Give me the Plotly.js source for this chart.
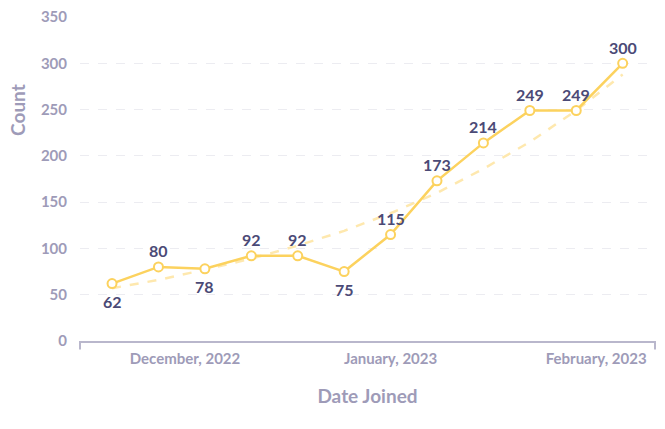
<!DOCTYPE html>
<html>
<head>
<meta charset="utf-8">
<script src="https://cdn.plot.ly/plotly-3.0.1.min.js"></script>
<style>html,body{margin:0;padding:0;background:#fff;}#chart{width:665px;height:429px;}</style>
</head>
<body>
<div id="chart"></div>
<script>
const dates = ["2022-11-20","2022-11-27","2022-12-04","2022-12-11","2022-12-18","2022-12-25","2023-01-01","2023-01-08","2023-01-15","2023-01-22","2023-01-29","2023-02-05"];
const counts = [62, 80, 78, 92, 92, 75, 115, 173, 214, 249, 249, 300];
const trend = [57, 66, 77, 89, 103, 119, 138, 160, 186, 215, 249, 288];
const labelSide = ["below","above","below","above","above","below","above","above","above","above","above","above"];
const tickDates = ["2022-12-01","2023-01-01","2023-02-01"];
const tickText = ["December, 2022","January, 2023","February, 2023"];

const yellow = "#fcd25e";
const axisGray = "#9e9bb8";
const traces = [
  {x: dates, y: trend, mode: "lines", line: {color: "rgba(253,222,140,0.7)", width: 2.5, dash: "dash"}, hoverinfo: "skip", showlegend: false},
  {x: dates, y: counts, mode: "lines+markers",
   line: {color: yellow, width: 2.5},
   marker: {symbol: "circle", size: 9, color: "#ffffff", line: {color: yellow, width: 2}},
   showlegend: false}
];
const labelAnns = counts.map((v, i) => ({
  x: dates[i], y: v, text: String(v), showarrow: false,
  xanchor: "center", yanchor: "middle",
  yshift: labelSide[i] === "above" ? 16 : -18,
  font: {family: "Lato, sans-serif", size: 16, color: "#4b4a76", weight: 700}
}));
const layout = {
  width: 665, height: 429,
  margin: {l: 80, r: 10, t: 17, b: 88},
  paper_bgcolor: "#ffffff", plot_bgcolor: "#ffffff",
  font: {family: "Lato, sans-serif", color: axisGray},
  xaxis: {
    type: "date",
    range: ["2022-11-15 04:00", "2023-02-09 21:00"],
    tickvals: tickDates, ticktext: tickText,
    tickfont: {size: 15, color: axisGray, weight: 700},
    showgrid: false, zeroline: false,
    showline: true, linecolor: "#b9b7cc", linewidth: 2,
    ticks: "", ticklabelstandoff: 3,
    title: {text: "Date Joined", font: {size: 19, color: axisGray, weight: 700}, standoff: 24}
  },
  yaxis: {
    range: [0, 350],
    tickvals: [0, 50, 100, 150, 200, 250, 300, 350],
    tickfont: {size: 15, color: axisGray, weight: 700},
    showgrid: true, gridcolor: "#ececf1", griddash: "dash", gridwidth: 1,
    zeroline: false, showline: false, ticks: "", ticklabelstandoff: 12
  },
  shapes: [
    {type: "line", xref: "paper", yref: "paper", x0: 0, x1: 0, y0: 0, y1: -0.026, line: {color: "#b9b7cc", width: 2}},
    {type: "line", xref: "paper", yref: "paper", x0: 1, x1: 1, y0: 0, y1: -0.026, line: {color: "#b9b7cc", width: 2}}
  ],
  annotations: [
    {text: "Count", xref: "paper", yref: "paper", x: -0.108, y: 0.713, textangle: -90, showarrow: false,
     xanchor: "center", yanchor: "middle", font: {size: 19, color: axisGray, weight: 700}}
  ].concat(labelAnns)
};
Plotly.newPlot("chart", traces, layout, {displayModeBar: false, staticPlot: true});
</script>
</body>
</html>
